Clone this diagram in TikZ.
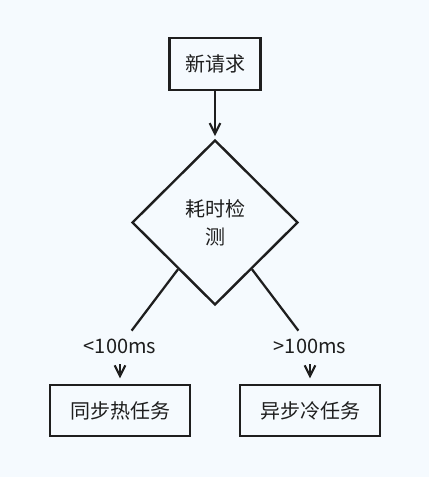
\documentclass[tikz,border=0pt]{standalone}
\usepackage{fontspec}
\setmainfont{Noto Sans CJK SC}
\usetikzlibrary{shapes.geometric,arrows.meta,calc,positioning}
\definecolor{canvas}{RGB}{245,250,254}
\definecolor{ink}{RGB}{30,30,30}

\tikzset{
  box/.style={rectangle,draw=ink,line width=1.9pt,inner sep=0pt},
  decision/.style={diamond,draw=ink,line width=1.8pt,inner sep=0pt,align=center,
    minimum width=124.5pt,minimum height=123.75pt},
  cond/.style={inner sep=2pt,outer sep=4pt},
  flow/.style={draw=ink,line width=1.7pt},
  tip/.style={-{Straight Barb[length=8pt,width=8pt,line width=1.6pt]}}
}

\begin{document}
\begin{tikzpicture}[x=0.75pt,y=-0.75pt,font=\fontsize{15}{21}\selectfont,text=ink]
      % canvas
      \fill[canvas] (0,0) rectangle (429,477);
      \useasboundingbox (0,0) rectangle (429,477);

      % request and check
      \node[box,minimum width=68.25pt,minimum height=39pt] (req) at (215,64) {新请求};
      \node[decision] (chk) at (215,222.5) {耗时检\\测};

      % task boxes
      \node[box,minimum width=105pt,minimum height=38.25pt] (sync) at (120,410.5) {同步热任务};
      \node[box,minimum width=105pt,minimum height=38.25pt] (async) at (310,410.5) {异步冷任务};

      % branch labels
      \node[cond] (lt) at (120,346) {<100ms};
      \node[cond] (gt) at (310,346) {>100ms};

      % request -> check
      \draw[flow,tip,shorten >=2pt] (req) -- (chk);

      % check -> labels
      \coordinate (ltout) at ($(chk.west)!0.56!(chk.south)$);
      \coordinate (gtout) at ($(chk.east)!0.56!(chk.south)$);
      \draw[flow] (ltout) -- (lt);
      \draw[flow] (gtout) -- (gt);

      % labels -> tasks
      \draw[flow,tip,shorten <=2pt,shorten >=4pt] (lt) -- (sync);
      \draw[flow,tip,shorten <=2pt,shorten >=4pt] (gt) -- (async);
\end{tikzpicture}
\end{document}
